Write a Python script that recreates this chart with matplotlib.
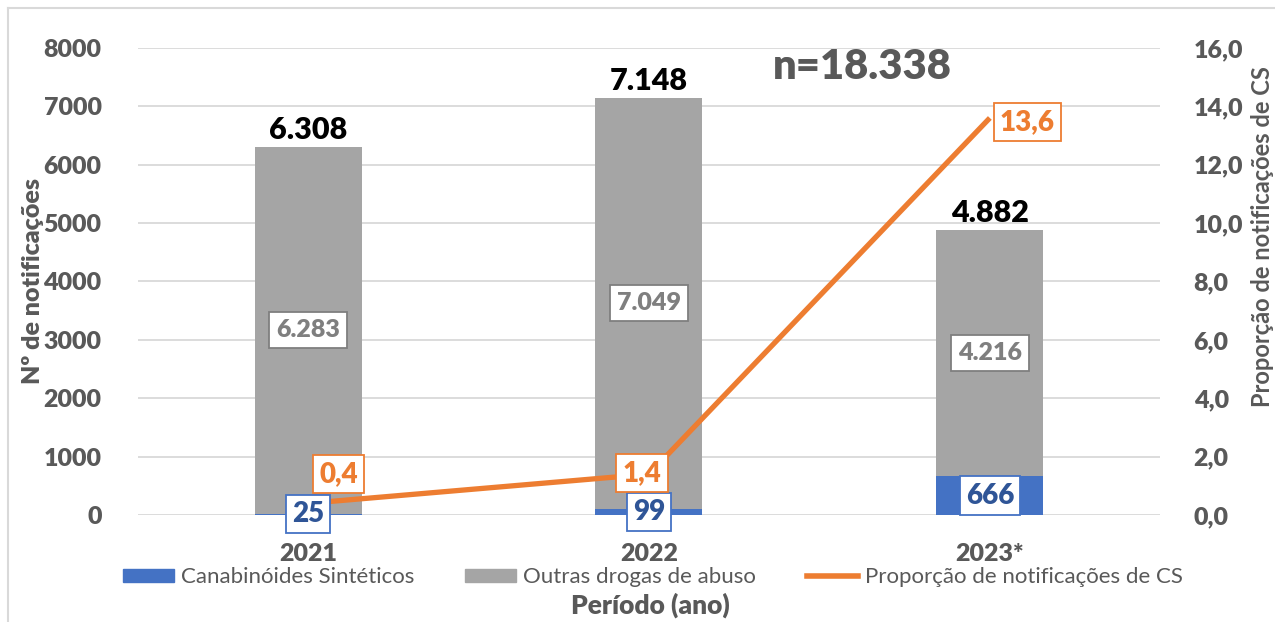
import matplotlib.pyplot as plt
from matplotlib.patches import Patch
from matplotlib.lines import Line2D
from matplotlib.ticker import FuncFormatter

plt.rcParams['font.family'] = ['Lato', 'DejaVu Sans']

anos = ['2021', '2022', '2023*']
canabinoides = [25, 99, 666]
outras = [6283, 7049, 4216]
totais = [6308, 7148, 4882]
proporcao = [0.4, 1.4, 13.6]

azul = '#4472C4'
cinza = '#A5A5A5'
laranja = '#ED7D31'
texto = '#595959'


def milhar(v):
    return f'{v:,}'.replace(',', '.')


def decimal(v):
    return f'{v:.1f}'.replace('.', ',')


fig = plt.figure(figsize=(12.75, 6.22), dpi=100)
ax = fig.add_axes([0.108, 0.172, 0.802, 0.751])
ax2 = ax.twinx()

x = list(range(len(anos)))
ax.bar(x, canabinoides, width=0.314, color=azul, zorder=2)
ax.bar(x, outras, width=0.314, bottom=canabinoides, color=cinza, zorder=2)
ax2.plot(x, proporcao, color=laranja, lw=3.8, solid_capstyle='butt', zorder=3)

ax.set_xlim(-0.5, 2.5)
ax.set_ylim(0, 8000)
ax.set_yticks(range(0, 8001, 1000))
ax2.set_ylim(0, 16)
ax2.set_yticks(range(0, 17, 2))
ax2.yaxis.set_major_formatter(FuncFormatter(lambda v, p: decimal(v)))

ax.grid(axis='y', color='#D9D9D9', lw=1.3, zorder=0)
ax.set_axisbelow(True)
for a in (ax, ax2):
    for s in a.spines.values():
        s.set_visible(False)
    a.tick_params(length=0, labelsize=18, labelcolor=texto)
    for t in a.get_yticklabels():
        t.set_fontweight('heavy')
ax.tick_params(axis='y', pad=26)
ax2.tick_params(axis='y', pad=24)
ax.set_xticks(x)
ax.set_xticklabels(anos, fontsize=18, fontweight='heavy', color=texto)
ax.tick_params(axis='x', pad=20)

# rótulos das barras (no eixo de cima para ficar sobre a linha)
for i in x:
    ax2.annotate(milhar(canabinoides[i]), (i, canabinoides[i] / 2), xycoords=ax.transData,
                 ha='center', va='center', fontsize=20, fontweight='heavy', color='#2F5597',
                 bbox=dict(boxstyle='square,pad=0.22', fc='white', ec=azul, lw=1.3), zorder=5)
    ax2.annotate(milhar(outras[i]), (i, canabinoides[i] + outras[i] / 2), xycoords=ax.transData,
                 ha='center', va='center', fontsize=18, fontweight='heavy', color='#7F7F7F',
                 bbox=dict(boxstyle='square,pad=0.28', fc='white', ec='#7F7F7F', lw=1.3), zorder=5)
    ax2.annotate(milhar(totais[i]), (i, totais[i]), xycoords=ax.transData,
                 xytext=(0, 2), textcoords='offset points',
                 ha='center', va='bottom', fontsize=22, fontweight='heavy', color='black', zorder=5)

offsets = [(22, 21), (-5, 1), (27, -3)]
for i in x:
    ax2.annotate(decimal(proporcao[i]), (i, proporcao[i]), xytext=offsets[i],
                 textcoords='offset points', ha='center', va='center',
                 fontsize=20, fontweight='heavy', color=laranja,
                 bbox=dict(boxstyle='square,pad=0.22', fc='white', ec=laranja, lw=1.3), zorder=6)

fig.text(0.676, 0.893, 'n=18.338', ha='center', va='center', fontsize=30,
         fontweight='heavy', color=texto)

fig.text(0.026, 0.548, 'Nº de notificações', rotation=90, ha='center', va='center',
         fontsize=18, fontweight='heavy', color=texto)
fig.text(0.99, 0.62, 'Proporção de notificações de CS', rotation=90, ha='center',
         va='center', fontsize=17, fontweight='bold', color=texto)
fig.text(0.51, 0.027, 'Período (ano)', ha='center', va='center', fontsize=19,
         fontweight='heavy', color=texto)

handles = [Patch(color=azul), Patch(color=cinza), Line2D([], [], color=laranja, lw=4)]
nomes = ['Canabinóides Sintéticos', 'Outras drogas de abuso', 'Proporção de notificações de CS']
fig.legend(handles, nomes, loc='center', bbox_to_anchor=(0.512, 0.072), ncol=3,
           frameon=False, fontsize=16, labelcolor=texto, handlelength=2.3,
           handleheight=0.55, handletextpad=0.3, columnspacing=2.3)

fig.add_artist(Line2D([8 / 1275, 1.0], [1 - 8 / 622] * 2, color='#D9D9D9', lw=1.5))
fig.add_artist(Line2D([8 / 1275] * 2, [0.0, 1 - 8 / 622], color='#D9D9D9', lw=1.5))

fig.savefig('out.png', dpi=100)
